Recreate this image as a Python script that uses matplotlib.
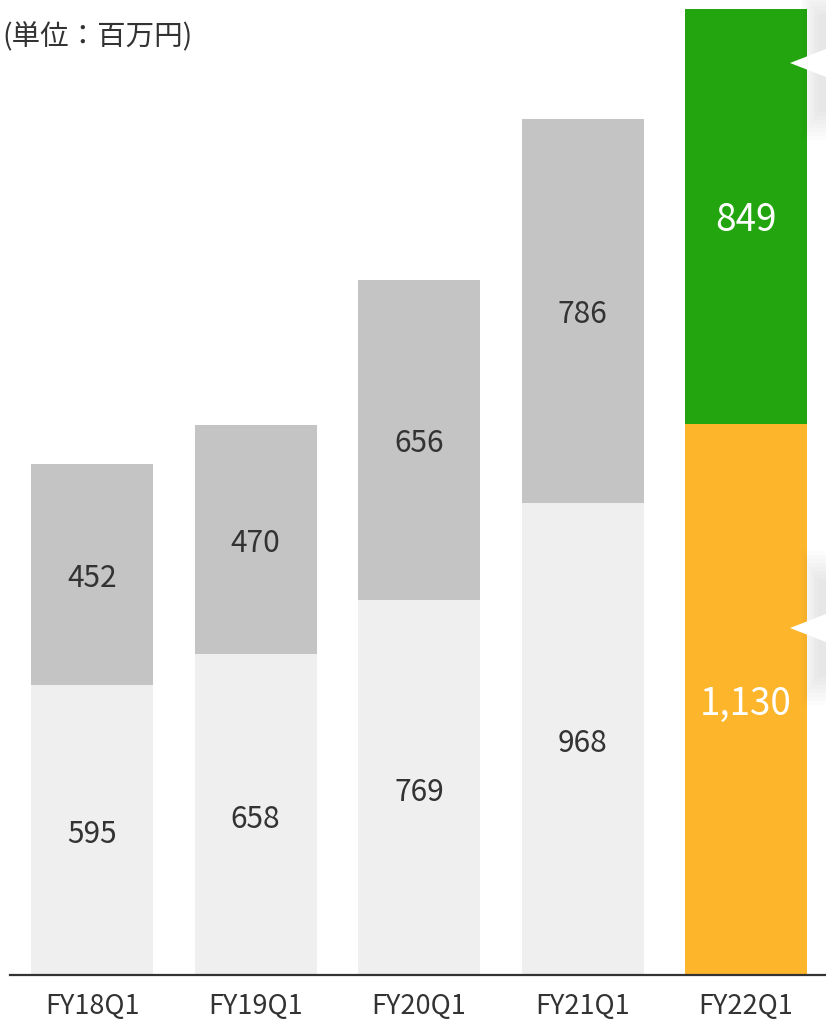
import matplotlib
matplotlib.use("Agg")
import matplotlib.pyplot as plt
from matplotlib.patches import Polygon

plt.rcParams['font.family'] = ['Noto Sans CJK JP', 'DejaVu Sans']

periods = ['FY18Q1', 'FY19Q1', 'FY20Q1', 'FY21Q1', 'FY22Q1']
lower = [595, 658, 769, 968, 1130]
upper = [452, 470, 656, 786, 849]

lower_colors = ['#efefef'] * 4 + ['#fdb62b']
upper_colors = ['#c4c4c4'] * 4 + ['#22a50f']
label_colors = ['#333333'] * 4 + ['#ffffff']

W, H = 826, 1025
fig = plt.figure(figsize=(W / 100, H / 100), dpi=100)

# main axes: baseline at y=975px, left edge at x=10px
ax = fig.add_axes([10 / W, (H - 975) / H, 816 / W, 975 / H])
ax.set_xlim(-0.5015, 4.489)
ax.set_ylim(0, 1998)

x = range(len(periods))
ax.bar(x, lower, width=0.746, color=lower_colors, zorder=2)
ax.bar(x, upper, width=0.746, bottom=lower, color=upper_colors, zorder=2)

for i in x:
    fs = 26.5 if i == 4 else 21.5
    ax.annotate(f"{lower[i]:,}", (i, lower[i] / 2), xytext=(0, -5),
                textcoords='offset pixels', ha='center', va='center',
                fontsize=fs, color=label_colors[i], zorder=3)
    ax.annotate(f"{upper[i]:,}", (i, lower[i] + upper[i] / 2), xytext=(0, -4),
                textcoords='offset pixels', ha='center', va='center',
                fontsize=fs, color=label_colors[i], zorder=3)

for s in ['top', 'right', 'left']:
    ax.spines[s].set_visible(False)
ax.spines['bottom'].set_color('#333333')
ax.spines['bottom'].set_linewidth(1.6)
ax.spines['bottom'].set_zorder(4)
ax.set_yticks([])
ax.set_xticks(list(x))
ax.set_xticklabels(periods, fontsize=19.5, color='#333333')
ax.tick_params(axis='x', length=0, pad=13)

# overlay in pixel coords for title and callout pointers
ov = fig.add_axes([0, 0, 1, 1], zorder=5)
ov.set_xlim(0, W)
ov.set_ylim(H, 0)
ov.axis('off')
ov.patch.set_alpha(0)

ov.text(2, 37, "(単位：百万円)", fontsize=20.5, color='#333333', va='center', ha='left')

for yc in [63, 628]:
    # soft shadow
    for k in range(8, 0, -1):
        d = k * 4
        ov.add_patch(Polygon([(820 - d * 0.6, yc - 45 - d), (W + 5, yc - 45 - d),
                              (W + 5, yc + 45 + d), (820 - d * 0.6, yc + 45 + d)],
                             closed=True, color='#000000', alpha=0.012, lw=0))
    ov.add_patch(Polygon([(W, yc - 14), (790, yc), (W, yc + 14)],
                         closed=True, color='white', lw=0))

fig.savefig("out.png", dpi=100)
